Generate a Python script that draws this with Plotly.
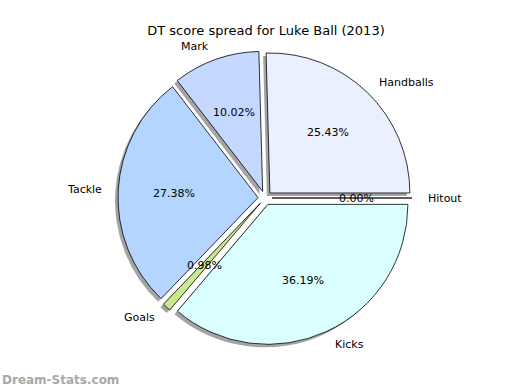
import math
import plotly.graph_objects as go

# ---- data ----
categories = ["Handballs", "Mark", "Tackle", "Goals", "Kicks", "Hitout"]
values = [25.43, 10.02, 27.38, 0.98, 36.19, 0.00]
pct_labels = ["25.43%", "10.02%", "27.38%", "0.98%", "36.19%", "0.00%"]
colors = ["#EAF0FF", "#C5D8FF", "#B4D5FF", "#CBE88F", "#D9FFFF", "#FFFFFF"]
title_text = "DT score spread for Luke Ball (2013)"
watermark = "Dream-Stats.com"

# ---- layout constants ----
W, H = 520, 390
PULL = 0.05
R = 140            # pie radius in px
CX, CY = 265, 198  # pie centre in px (from top-left)
FONT = "DejaVu Sans"

half = R * (1 + PULL)
dom_x = [(CX - half) / W, (CX + half) / W]
dom_y = [1 - (CY + half) / H, 1 - (CY - half) / H]

total = sum(values)
# plotly counterclockwise: first slice ends at `rotation` (clockwise from top);
# we want the first slice to start at 3 o'clock and run counterclockwise.
rot = 90 - 360.0 * values[0] / total

fig = go.Figure()

# shadow pie
sh_dx, sh_dy = -3, 3
fig.add_trace(go.Pie(
    values=values, labels=categories, sort=False, direction="counterclockwise",
    rotation=rot, pull=[PULL] * len(values), textinfo="none", hoverinfo="skip",
    marker=dict(colors=["rgba(90,90,90,0.55)"] * len(values), line=dict(width=0)),
    domain=dict(x=[dom_x[0] + sh_dx / W, dom_x[1] + sh_dx / W],
                y=[dom_y[0] - sh_dy / H, dom_y[1] - sh_dy / H]),
    showlegend=False,
))

# main pie
fig.add_trace(go.Pie(
    values=values, labels=categories, sort=False, direction="counterclockwise",
    rotation=rot, pull=[PULL] * len(values), textinfo="none",
    marker=dict(colors=colors, line=dict(color="black", width=0.8)),
    domain=dict(x=dom_x, y=dom_y),
    showlegend=False,
))

# labels and percentages (matplotlib-style positions)
start = 0.0
annotations = []
for cat, v, pl in zip(categories, values, pct_labels):
    span = 360.0 * v / total
    mid = math.radians(start + span / 2)
    start += span
    c, s = math.cos(mid), math.sin(mid)
    rl = R * (1.1 + PULL)
    annotations.append(dict(
        x=(CX + rl * c) / W, y=1 - (CY - rl * s) / H, xref="paper", yref="paper",
        text=cat, showarrow=False, xanchor="left" if c > 0 else "right", yanchor="middle",
        font=dict(family=FONT, size=11, color="black"),
    ))
    rp = R * (0.6 + PULL)
    annotations.append(dict(
        x=(CX + rp * c) / W, y=1 - (CY - rp * s) / H, xref="paper", yref="paper",
        text=pl, showarrow=False, xanchor="center", yanchor="middle",
        font=dict(family=FONT, size=11, color="black"),
    ))

annotations.append(dict(
    x=0, y=1 - 380 / H, xref="paper", yref="paper", text="<b>" + watermark + "</b>",
    showarrow=False, xanchor="left", yanchor="middle",
    font=dict(family=FONT, size=12, color="#A8A8A8"),
))

fig.update_layout(
    width=W, height=H, margin=dict(l=0, r=0, t=0, b=0),
    paper_bgcolor="white", plot_bgcolor="white",
    title=dict(text=title_text, x=266 / W, xanchor="center", y=1 - 30 / H, yanchor="middle",
               font=dict(family=FONT, size=13, color="black")),
    annotations=annotations,
)

fig.write_html("out.html")
